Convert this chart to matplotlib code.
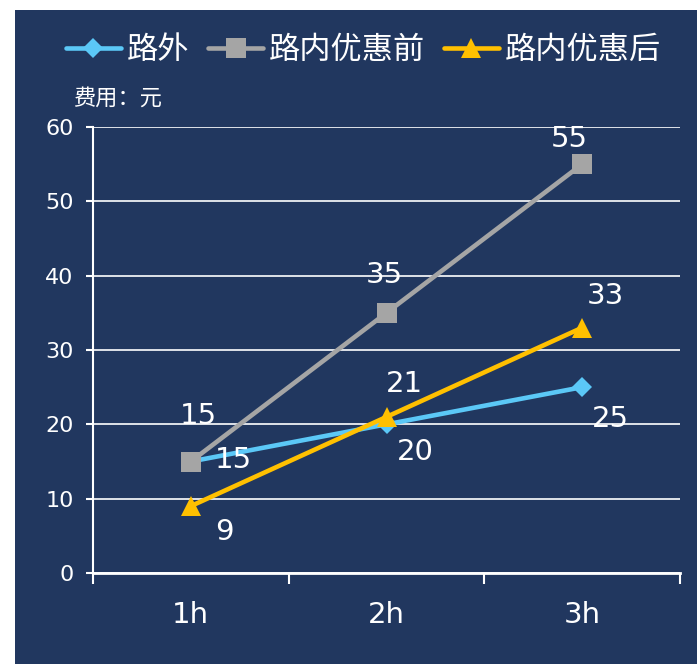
import numpy as np
import matplotlib
matplotlib.use("Agg")
import matplotlib.pyplot as plt
from matplotlib.patches import Rectangle

plt.rcParams["font.family"] = ["DejaVu Sans", "Noto Sans CJK SC"]

# data
categories = ["1h", "2h", "3h"]
series_names = ["路外", "路内优惠前", "路内优惠后"]
offroad = [15, 20, 25]
before_discount = [15, 35, 55]
after_discount = [9, 21, 33]
y_ticks = [0, 10, 20, 30, 40, 50, 60]

# style
bg = "#21375F"
colors = ["#5BC8F7", "#A5A5A5", "#FFC000"]
markers = ["D", "s", "^"]
msizes = [10, 14, 15]
# label offsets in pixels (dx, dy) for each series / point
label_offsets = [
    [(43, 1), (29, -28), (28, -32)],
    [(8, 45), (-2, 38), (-13, 25)],
    [(34, -26), (18, 33), (23, 32)],
]

fig = plt.figure(figsize=(6.97, 6.64), dpi=100, facecolor="white")
fig.patches.append(Rectangle((15 / 697, 0), 1, 1 - 10 / 664, transform=fig.transFigure,
                             facecolor=bg, edgecolor="none", zorder=-1))

ax = fig.add_axes([93 / 697, 1 - 573 / 664, (680 - 93) / 697, (573 - 127) / 664])
ax.set_facecolor(bg)

x = np.arange(len(categories))
all_series = [offroad, before_discount, after_discount]
lines = []
for vals, name, c, m, ms, offs in zip(all_series, series_names, colors, markers, msizes, label_offsets):
    ln, = ax.plot(x, vals, color=c, lw=3.3, marker=m, markersize=ms,
                  markeredgewidth=0, label=name, zorder=3, solid_capstyle="round")
    lines.append(ln)
    for xi, v, (dx, dy) in zip(x, vals, offs):
        ax.annotate(str(v), (xi, v), xytext=(dx, dy), textcoords="offset pixels",
                    ha="center", va="center", color="white", fontsize=21, zorder=4)

ax.set_xlim(-0.5, 2.5)
ax.set_ylim(0, 60)
ax.set_yticks(y_ticks)
ax.yaxis.grid(True, color="white", lw=1.2)
ax.set_axisbelow(True)

ax.set_xticks([-0.5, 0.5, 1.5, 2.5])
ax.set_xticklabels([])
ax.set_xticks(x, minor=True)
ax.set_xticklabels(categories, minor=True)
ax.tick_params(axis="x", which="major", direction="out", length=8, width=1.5, colors="white")
ax.tick_params(axis="x", which="minor", length=0, pad=20, labelsize=21, labelcolor="white")
ax.tick_params(axis="y", direction="out", length=5, width=1.5, colors="white",
               labelsize=16, pad=9)

for s in ["top", "right"]:
    ax.spines[s].set_visible(False)
ax.spines["bottom"].set_color("white")
ax.spines["bottom"].set_linewidth(2)
ax.spines["left"].set_color("white")
ax.spines["left"].set_linewidth(1.5)

cjk = ["Noto Sans CJK SC", "DejaVu Sans"]
leg = fig.legend(handles=lines, loc="center left", bbox_to_anchor=(66 / 697, 1 - 50 / 664),
                 ncol=3, frameon=False, handlelength=1.75, handletextpad=0.2,
                 columnspacing=0.6, borderpad=0, borderaxespad=0,
                 prop={"family": cjk, "size": 22.5})
for t in leg.get_texts():
    t.set_color("white")

fig.text(73 / 697, 1 - 98 / 664, "费用：元", color="white", fontsize=16,
         family=cjk, ha="left", va="center")

fig.savefig("out.png", dpi=100, facecolor="white")
